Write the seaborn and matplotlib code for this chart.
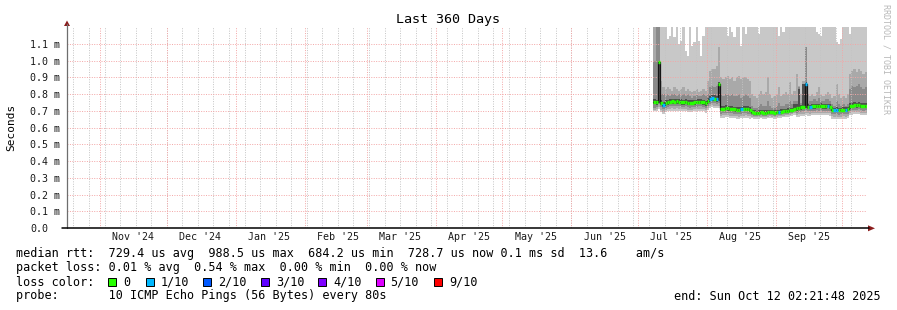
import numpy as np
import pandas as pd
import matplotlib
matplotlib.use("Agg")
import matplotlib.pyplot as plt
import seaborn as sns
from matplotlib.patches import Polygon, Rectangle
from matplotlib.lines import Line2D

# ---------------- data (milliseconds) ----------------
first_day = "2025-07-08"
window_start = "2024-10-17 02:21:48"
window_end = "2025-10-12 02:21:48"

median_ms = [
    0.755, 0.752, 0.990, 0.750, 0.738, 0.748, 0.752, 0.755, 0.757, 0.755, 0.757, 0.755,
    0.753, 0.752, 0.755, 0.750, 0.748, 0.750, 0.752, 0.754, 0.756, 0.755, 0.752, 0.745,
    0.760, 0.772, 0.776, 0.774, 0.770, 0.862,
    0.711, 0.714, 0.717, 0.715, 0.712, 0.713, 0.710, 0.708, 0.706, 0.709, 0.712, 0.714, 0.711, 0.708,
    0.692, 0.690, 0.688, 0.690, 0.691, 0.689, 0.690, 0.692, 0.693, 0.691, 0.690, 0.692,
    0.694, 0.696, 0.698, 0.700, 0.702, 0.704, 0.706, 0.712,
    0.716, 0.720, 0.722, 0.725, 0.862, 0.726,
    0.724, 0.727, 0.728, 0.730, 0.729, 0.731, 0.728, 0.727, 0.729, 0.726,
    0.708, 0.706, 0.707, 0.705, 0.706, 0.708, 0.707, 0.709,
    0.728, 0.732, 0.735, 0.733, 0.736, 0.731, 0.729, 0.730,
]

loss_count = [
    0, 0, 0, 0, 1, 0, 0, 0, 0, 0, 0, 0, 0, 0, 0, 0, 0, 0, 0, 0, 0, 0, 0, 0,
    0, 1, 1, 0, 1, 0,
    0, 0, 0, 0, 0, 0, 0, 0, 0, 1, 0, 0, 0, 0,
    0, 0, 0, 0, 0, 0, 0, 0, 0, 0, 0, 0, 1, 0, 0, 0, 0, 0, 0, 0,
    0, 0, 0, 0, 1, 0,
    1, 0, 0, 0, 0, 0, 0, 0, 1, 0,
    0, 1, 1, 0, 0, 0, 1, 0,
    0, 0, 0, 0, 0, 0, 0, 0,
]

smoke_hi4 = [
    1.25, 1.25, 1.25, 1.25, 1.25, 1.25, 1.13, 1.15, 1.25, 1.14, 1.25, 1.10,
    1.12, 1.25, 1.06, 1.03, 1.25, 1.09, 1.11, 1.25, 1.12, 1.03, 1.15, 1.25,
    1.25, 1.25, 1.25, 1.25, 1.25, 1.25,
    1.25, 1.25, 1.25, 1.15, 1.25, 1.17, 1.14, 1.25, 1.25, 1.09, 1.25, 1.16, 1.25, 1.25,
    1.25, 1.25, 1.25, 1.16, 1.25, 1.25, 1.25, 1.25, 1.25, 1.25, 1.25, 1.25,
    1.15, 1.25, 1.17, 1.25, 1.25, 1.25, 1.25, 1.25,
    1.25, 1.25, 1.25, 1.25, 1.25, 1.25,
    1.25, 1.25, 1.25, 1.17, 1.16, 1.15, 1.25, 1.25, 1.25, 1.25,
    1.25, 1.25, 1.11, 1.10, 1.13, 1.25, 1.25, 1.25,
    1.16, 1.25, 1.25, 1.25, 1.25, 1.25, 1.25, 1.25,
]

smoke_hi3 = [
    1.25, 1.25, 1.25, 0.88, 0.84, 0.83, 0.84, 0.83, 0.82, 0.84, 0.83, 0.82,
    0.83, 0.84, 0.82, 0.83, 0.82, 0.81, 0.82, 0.83, 0.81, 0.82, 0.83, 0.82,
    0.88, 0.94, 0.95, 0.95, 0.97, 1.08,
    0.90, 0.89, 0.90, 0.91, 0.89, 0.90, 0.88, 0.90, 0.91, 0.89, 0.90, 0.90, 0.89, 0.88,
    0.80, 0.79, 0.78, 0.80, 0.82, 0.80, 0.81, 0.90, 0.80, 0.78, 0.79, 0.80,
    0.84, 0.79, 0.80, 0.81, 0.80, 0.87, 0.80, 0.82,
    0.92, 0.85, 0.80, 0.88, 1.08, 0.80,
    0.79, 0.80, 0.79, 0.81, 0.84, 0.80, 0.79, 0.80, 0.81, 0.80,
    0.78, 0.79, 0.86, 0.80, 0.78, 0.79, 0.78, 0.80,
    0.92, 0.94, 0.95, 0.93, 0.95, 0.94, 0.92, 0.93,
]

smoke_hi2 = [
    1.00, 1.25, 1.25, 0.80, 0.80, 0.79, 0.80, 0.79, 0.80, 0.80, 0.79, 0.80,
    0.79, 0.80, 0.79, 0.80, 0.79, 0.78, 0.79, 0.80, 0.79, 0.79, 0.80, 0.79,
    0.80, 0.84, 0.85, 0.84, 0.85, 0.87,
    0.80, 0.79, 0.80, 0.80, 0.79, 0.80, 0.79, 0.79, 0.80, 0.78, 0.79, 0.80, 0.79, 0.78,
    0.73, 0.72, 0.72, 0.73, 0.74, 0.73, 0.73, 0.76, 0.73, 0.72, 0.72, 0.73,
    0.75, 0.73, 0.73, 0.74, 0.74, 0.76, 0.74, 0.76,
    0.76, 0.84, 0.75, 0.86, 1.08, 0.75,
    0.76, 0.76, 0.77, 0.76, 0.78, 0.76, 0.76, 0.77, 0.77, 0.76,
    0.74, 0.73, 0.76, 0.74, 0.73, 0.74, 0.73, 0.74,
    0.83, 0.85, 0.84, 0.85, 0.86, 0.84, 0.83, 0.84,
]

smoke_hi1 = [
    0.770, 0.768, 1.000, 0.766, 0.755, 0.764, 0.768, 0.771, 0.773, 0.771, 0.773, 0.771,
    0.769, 0.768, 0.771, 0.766, 0.764, 0.766, 0.768, 0.770, 0.772, 0.771, 0.768, 0.762,
    0.776, 0.790, 0.794, 0.792, 0.788, 0.872,
    0.727, 0.730, 0.733, 0.731, 0.728, 0.729, 0.726, 0.724, 0.722, 0.725, 0.728, 0.730, 0.727, 0.724,
    0.706, 0.704, 0.702, 0.704, 0.705, 0.703, 0.704, 0.708, 0.707, 0.705, 0.704, 0.706,
    0.708, 0.710, 0.712, 0.714, 0.716, 0.720, 0.720, 0.740,
    0.740, 0.830, 0.736, 0.860, 0.872, 0.740,
    0.738, 0.741, 0.742, 0.744, 0.743, 0.745, 0.742, 0.741, 0.743, 0.740,
    0.722, 0.720, 0.721, 0.719, 0.720, 0.722, 0.721, 0.723,
    0.745, 0.750, 0.752, 0.750, 0.754, 0.748, 0.746, 0.747,
]

smoke_lo1 = [
    0.740, 0.737, 0.750, 0.735, 0.723, 0.733, 0.737, 0.740, 0.742, 0.740, 0.742, 0.740,
    0.738, 0.737, 0.740, 0.735, 0.733, 0.735, 0.737, 0.739, 0.741, 0.740, 0.737, 0.730,
    0.745, 0.757, 0.760, 0.758, 0.755, 0.760,
    0.697, 0.700, 0.703, 0.701, 0.698, 0.699, 0.696, 0.694, 0.692, 0.695, 0.698, 0.700, 0.697, 0.694,
    0.682, 0.680, 0.678, 0.680, 0.681, 0.679, 0.680, 0.682, 0.683, 0.681, 0.680, 0.682,
    0.684, 0.686, 0.688, 0.690, 0.692, 0.694, 0.696, 0.702,
    0.702, 0.706, 0.708, 0.711, 0.720, 0.712,
    0.710, 0.713, 0.714, 0.716, 0.715, 0.717, 0.714, 0.713, 0.715, 0.712,
    0.694, 0.692, 0.693, 0.691, 0.692, 0.694, 0.693, 0.695,
    0.714, 0.718, 0.721, 0.719, 0.722, 0.717, 0.715, 0.716,
]

smoke_lo2 = [
    0.720, 0.722, 0.740, 0.722, 0.710, 0.720, 0.724, 0.727, 0.729, 0.727, 0.729, 0.727,
    0.725, 0.724, 0.727, 0.722, 0.720, 0.722, 0.724, 0.726, 0.728, 0.727, 0.724, 0.717,
    0.732, 0.744, 0.748, 0.746, 0.742, 0.745,
    0.684, 0.687, 0.690, 0.688, 0.685, 0.686, 0.683, 0.681, 0.679, 0.682, 0.685, 0.687, 0.684, 0.681,
    0.674, 0.672, 0.670, 0.672, 0.673, 0.671, 0.672, 0.674, 0.675, 0.673, 0.672, 0.674,
    0.676, 0.678, 0.680, 0.682, 0.684, 0.686, 0.688, 0.694,
    0.689, 0.693, 0.695, 0.698, 0.705, 0.699,
    0.697, 0.700, 0.701, 0.703, 0.702, 0.704, 0.701, 0.700, 0.702, 0.699,
    0.681, 0.679, 0.680, 0.678, 0.679, 0.681, 0.680, 0.682,
    0.701, 0.705, 0.708, 0.706, 0.709, 0.704, 0.702, 0.703,
]

smoke_lo3 = [
    0.708, 0.710, 0.725, 0.708, 0.696, 0.706, 0.710, 0.713, 0.715, 0.713, 0.715, 0.713,
    0.711, 0.710, 0.713, 0.708, 0.706, 0.708, 0.710, 0.712, 0.714, 0.713, 0.710, 0.703,
    0.718, 0.730, 0.734, 0.732, 0.728, 0.730,
    0.670, 0.673, 0.676, 0.674, 0.671, 0.672, 0.669, 0.667, 0.665, 0.668, 0.671, 0.673, 0.670, 0.667,
    0.666, 0.664, 0.662, 0.664, 0.665, 0.663, 0.664, 0.666, 0.667, 0.665, 0.664, 0.666,
    0.668, 0.670, 0.672, 0.674, 0.676, 0.678, 0.680, 0.686,
    0.675, 0.679, 0.681, 0.684, 0.690, 0.685,
    0.683, 0.686, 0.687, 0.689, 0.688, 0.690, 0.687, 0.686, 0.688, 0.685,
    0.667, 0.665, 0.666, 0.664, 0.665, 0.667, 0.666, 0.668,
    0.687, 0.691, 0.694, 0.692, 0.695, 0.690, 0.688, 0.689,
]

smoke_lo4 = [
    0.698, 0.698, 0.712, 0.695, 0.684, 0.694, 0.697, 0.700, 0.702, 0.700, 0.702, 0.700,
    0.698, 0.697, 0.700, 0.695, 0.693, 0.695, 0.697, 0.699, 0.701, 0.700, 0.697, 0.690,
    0.705, 0.717, 0.721, 0.719, 0.715, 0.716,
    0.657, 0.660, 0.663, 0.661, 0.658, 0.659, 0.656, 0.654, 0.652, 0.655, 0.658, 0.660, 0.657, 0.654,
    0.656, 0.654, 0.652, 0.654, 0.655, 0.653, 0.654, 0.656, 0.657, 0.655, 0.654, 0.656,
    0.658, 0.660, 0.662, 0.664, 0.666, 0.668, 0.670, 0.676,
    0.662, 0.666, 0.668, 0.671, 0.677, 0.672,
    0.670, 0.673, 0.674, 0.676, 0.675, 0.677, 0.674, 0.673, 0.675, 0.672,
    0.654, 0.652, 0.653, 0.651, 0.652, 0.654, 0.653, 0.655,
    0.674, 0.678, 0.681, 0.679, 0.682, 0.677, 0.675, 0.676,
]

ytick_values = [0.0, 0.1, 0.2, 0.3, 0.4, 0.5, 0.6, 0.7, 0.8, 0.9, 1.0, 1.1]
ytick_labels = ["0.0", "0.1 m", "0.2 m", "0.3 m", "0.4 m", "0.5 m", "0.6 m",
                "0.7 m", "0.8 m", "0.9 m", "1.0 m", "1.1 m"]
y_max = 1.2
month_labels = ["Nov '24", "Dec '24", "Jan '25", "Feb '25", "Mar '25", "Apr '25",
                "May '25", "Jun '25", "Jul '25", "Aug '25", "Sep '25"]

loss_palette = {0: "#26ff00", 1: "#00b8ff", 2: "#0059ff", 3: "#5e00ff",
                4: "#7e00ff", 5: "#dd00ff", 9: "#ff0000"}
legend_loss_labels = ["0", "1/10", "2/10", "3/10", "4/10", "5/10", "9/10"]
legend_loss_keys = [0, 1, 2, 3, 4, 5, 9]

line_median = "median rtt:  729.4 us avg  988.5 us max  684.2 us min  728.7 us now 0.1 ms sd  13.6    am/s"
line_loss = "packet loss: 0.01 % avg  0.54 % max  0.00 % min  0.00 % now"
line_probe = "probe:       10 ICMP Echo Pings (56 Bytes) every 80s"
line_end = "end: Sun Oct 12 02:21:48 2025"

# ---------------- figure ----------------
sns.set_theme(style="white")
plt.rcParams["font.family"] = ["DejaVu Sans Mono", "DejaVu Sans"]

W, H = 897, 310
fig = plt.figure(figsize=(W / 100, H / 100), dpi=100)
fig.patch.set_facecolor("white")


def fx(px):
    return px / W


def fy(py):
    return 1 - py / H


PX_PER_MS = 167.3
ax = fig.add_axes([fx(67), fy(228), 800 / W, y_max * PX_PER_MS / H])
ax.set_facecolor("white")

t0 = pd.Timestamp(window_start)
t1 = pd.Timestamp(window_end)
dates = pd.date_range(first_day, periods=len(median_ms), freq="D")
dates_ext = dates.append(pd.DatetimeIndex([dates[-1] + pd.Timedelta(days=1)]))


def ext(a):
    a = np.asarray(a, dtype=float)
    return np.append(a, a[-1])


# smoke layers (outer = lightest)
layers = [
    (smoke_lo4, smoke_hi4, "#c8c8c8"),
    (smoke_lo3, smoke_hi3, "#a9a9a9"),
    (smoke_lo2, smoke_hi2, "#8a8a8a"),
    (smoke_lo1, smoke_hi1, "#4e4e4e"),
]
for lo, hi, col in layers:
    ax.fill_between(dates_ext, ext(lo), ext(hi), step="post", color=col, lw=0, zorder=1)

# grid
dot = (0, (1, 1.5))
for wk in pd.date_range(t0.normalize(), t1, freq="W-SUN"):
    ax.axvline(wk, color="#c4c4c4", lw=0.7, ls=dot, zorder=2)
months = pd.date_range("2024-11-01", t1, freq="MS")
for m in months:
    ax.axvline(m, color="#f3a6a6", lw=0.7, ls=dot, zorder=2)
for v in ytick_values[1:]:
    ax.axhline(v, color="#f3a6a6", lw=0.7, ls=dot, zorder=2)

# thin dark step connectors of the median
med_df = pd.DataFrame({"t": dates_ext, "v": ext(median_ms)})
sns.lineplot(data=med_df, x="t", y="v", estimator=None, drawstyle="steps-post",
             color="#151515", lw=0.9, legend=False, ax=ax, zorder=4)

# median: one horizontal step per sample, coloured by loss
# (each step overlaps the next by a few hours so the line renders without seams)
overlap = pd.Timedelta(hours=4)
seg_rows = []
for i in range(len(median_ms)):
    for t in (dates_ext[i], dates_ext[i + 1] + overlap):
        seg_rows.append({"t": t, "v": median_ms[i], "seg": i, "loss": loss_count[i]})
seg_df = pd.DataFrame(seg_rows)
sns.lineplot(data=seg_df, x="t", y="v", hue="loss", units="seg", estimator=None,
             palette={k: loss_palette[k] for k in sorted(set(loss_count))},
             lw=2.4, legend=False, ax=ax, zorder=5, solid_capstyle="butt")

ax.set_xlim(t0, t1)
ax.set_ylim(0, y_max)
for s in ax.spines.values():
    s.set_visible(False)

label_pos = [m + pd.Timedelta(days=15) for m in months[:len(month_labels)]]
ax.set_xticks(label_pos)
ax.set_xticklabels(month_labels, fontsize=7.2, color="#1a1a1a")
ax.set_yticks(ytick_values)
ax.set_yticklabels(ytick_labels, fontsize=7.2, color="#1a1a1a", ha="left")
ax.tick_params(axis="x", length=0, pad=3)
ax.tick_params(axis="y", length=0, pad=26.6)
ax.set_xlabel("")
ax.set_ylabel("")
ax.grid(False)

# axis lines and arrows
fig.add_artist(Line2D([fx(67), fx(67)], [fy(228), fy(24)], color="#6e6e6e", lw=0.9))
fig.add_artist(Line2D([fx(62), fx(869)], [fy(228.3), fy(228.3)], color="black", lw=1.1))
fig.add_artist(Polygon([(fx(64), fy(26)), (fx(70), fy(26)), (fx(67), fy(20.5))],
                       closed=True, color="#8b1c1c", lw=0))
fig.add_artist(Polygon([(fx(868), fy(225.3)), (fx(868), fy(231.3)), (fx(875), fy(228.3))],
                       closed=True, color="#8b1c1c", lw=0))

# titles
fig.text(fx(448), fy(19), "Last 360 Days", ha="center", va="center", fontsize=9.6, color="black")
fig.text(fx(11), fy(127), "Seconds", ha="center", va="center", rotation=90, fontsize=8, color="black")
fig.text(fx(886), fy(59), "RRDTOOL / TOBI OETIKER", ha="center", va="center", rotation=270,
         fontsize=6, color="#b8b8b8")

# legend block
fs = 8.5
fig.text(fx(16), fy(254), line_median, ha="left", va="center", fontsize=fs, color="black")
fig.text(fx(16), fy(268), line_loss, ha="left", va="center", fontsize=fs, color="black")
fig.text(fx(16), fy(282), "loss color:", ha="left", va="center", fontsize=fs, color="black")
fig.text(fx(16), fy(296), line_probe, ha="left", va="center", fontsize=fs, color="black")
fig.text(fx(881), fy(296), line_end, ha="right", va="center", fontsize=fs, color="black")

swatch_x = [108, 146, 203, 261, 318, 376, 434]
label_x = [123, 161, 218, 276, 333, 390, 449]
for key, lab, sx, lx in zip(legend_loss_keys, legend_loss_labels, swatch_x, label_x):
    fig.add_artist(Rectangle((fx(sx), fy(286)), 8 / W, 8 / H, facecolor=loss_palette[key],
                             edgecolor="black", lw=0.7, transform=fig.transFigure))
    fig.text(fx(lx), fy(282), lab, ha="left", va="center", fontsize=fs, color="black")

fig.savefig("out.png", dpi=100, facecolor="white")
